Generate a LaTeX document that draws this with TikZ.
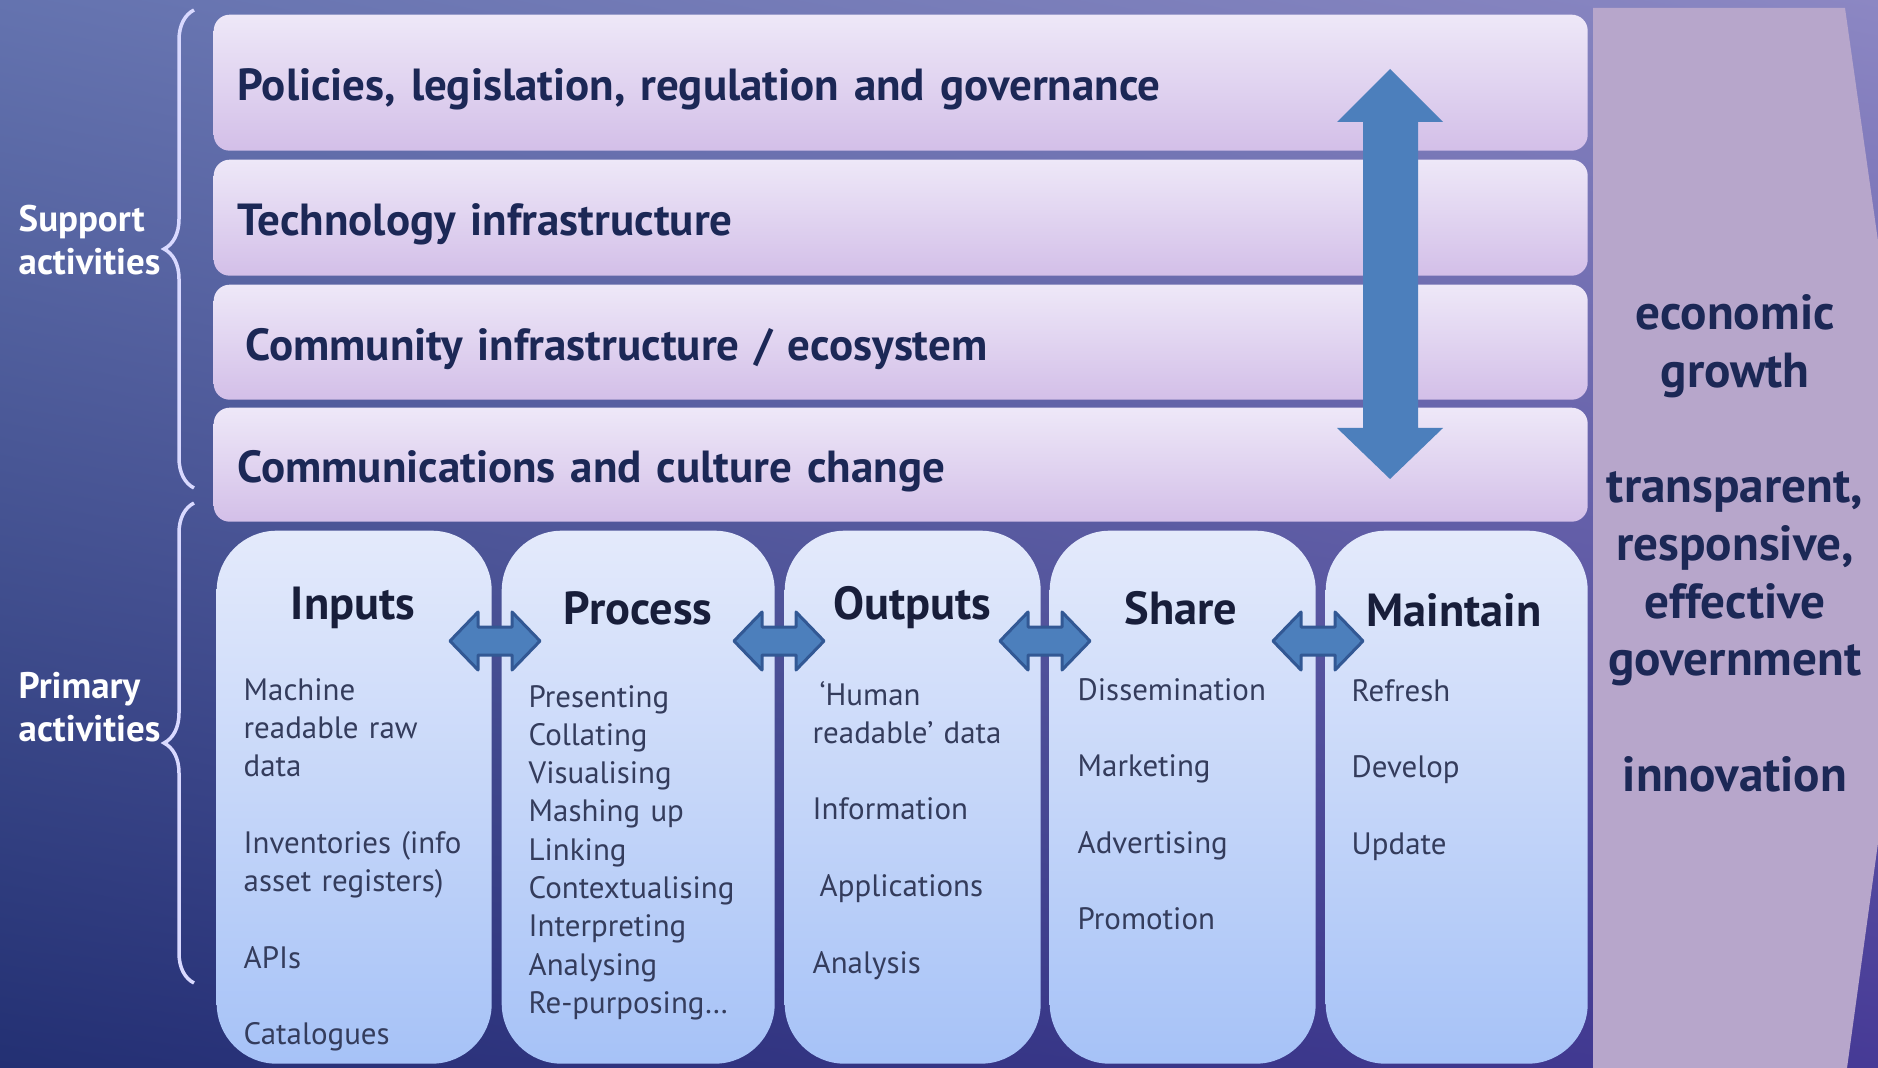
\documentclass[tikz,border=0pt]{standalone}
\usepackage{fontspec}
\setmainfont{PT Sans}
\usetikzlibrary{decorations.pathreplacing, shadings}

\definecolor{navy}{RGB}{28,40,86}
\definecolor{itemgray}{RGB}{52,60,92}
\definecolor{coltext}{RGB}{24,30,58}
\definecolor{arrowblue}{RGB}{76,127,188}
\definecolor{arrowedge}{RGB}{50,88,148}
\definecolor{panel}{RGB}{183,166,203}
\definecolor{bartop}{RGB}{238,232,248}
\definecolor{barbot}{RGB}{211,191,232}
\definecolor{coltop}{RGB}{228,234,251}
\definecolor{colbot}{RGB}{166,194,247}
\definecolor{bgul}{RGB}{100,115,175}
\definecolor{bgur}{RGB}{140,135,195}
\definecolor{bgll}{RGB}{35,48,115}
\definecolor{bglr}{RGB}{70,58,150}

\tikzset{
  bar/.style={rectangle, rounded corners=1.6mm, top color=bartop, bottom color=barbot,
    text width=132.6mm, inner xsep=2.4mm, inner ysep=0pt, align=left, anchor=north west,
    text height=13.3pt, text depth=3pt, text=navy, font=\bfseries\fontsize{12.8}{14}\selectfont},
  column/.style={rectangle, rounded corners=6mm, top color=coltop, bottom color=colbot,
    minimum height=53.3mm, inner sep=0pt, anchor=north west},
  coltitle/.style={text=coltext, font=\bfseries\fontsize{13.2}{15}\selectfont},
  items/.style={anchor=base west, inner sep=0pt, text width=30mm, align=left,
    text=itemgray, font=\fontsize{8.8}{10.9}\selectfont},
  sidelabel/.style={anchor=base west, inner sep=0pt, text width=16mm, align=left, text=white,
    font=\bfseries\fontsize{10.5}{12.2}\selectfont},
  sidebrace/.style={draw=white!85!blue, line width=0.35mm,
    decorate, decoration={brace, amplitude=3mm}},
  dblarrow/.style={fill=arrowblue, draw=arrowedge, line width=0.3mm, line join=round}
}

\begin{document}
\begin{tikzpicture}[x=0.1mm, y=-0.1mm]
  \useasboundingbox (0,0) rectangle (1878,1068);
  % background
  \shade[upper left=bgul, upper right=bgur, lower left=bgll, lower right=bglr]
    (0,0) rectangle (1878,1068);

  % outcome panel on the right
  \fill[panel] (1593,8) -- (1845,8) -- (1920,538) -- (1847,1068) -- (1593,1068) -- cycle;
  \node[align=center, anchor=base, inner sep=0pt, text width=28mm, text=navy,
    font=\bfseries\fontsize{14}{16.4}\selectfont]
    (outcomes) at (1735,330) {economic\\growth\\[16.4pt]transparent,\\responsive,\\effective\\government\\[16.4pt]innovation};

  % support activities
  \node[bar, minimum height=13.6mm] (policies) at (213,14) {Policies, legislation, regulation and governance};
  \node[bar, minimum height=11.6mm] (technology) at (213,159) {Technology infrastructure};
  \node[bar, minimum height=11.5mm] (community) at (213,284) {\hspace{0.8mm}Community infrastructure / ecosystem};
  \node[bar, minimum height=11.4mm] (communications) at (213,407) {Communications and culture change};

  % vertical arrow across the support layers
  \fill[arrowblue] (1390,69) -- (1443,122) -- (1418,122) -- (1418,428) -- (1443,428) -- (1390,479)
    -- (1337,428) -- (1363,428) -- (1363,122) -- (1337,122) -- cycle;

  % primary activities
  \node[column, minimum width=27.5mm] (inputs) at (216,530) {};
  \node[column, minimum width=27.3mm] (process) at (501,530) {};
  \node[column, minimum width=25.6mm] (outputs) at (784,530) {};
  \node[column, minimum width=26.6mm] (share) at (1049,530) {};
  \node[column, minimum width=26.2mm] (maintain) at (1325,530) {};

  \node[coltitle] (inputs-t) at (353,608) {Inputs};
  \node[coltitle] (process-t) at (638,608) {Process};
  \node[coltitle] (outputs-t) at (912,608) {Outputs};
  \node[coltitle] (share-t) at (1181,608) {Share};
  \node[coltitle] (maintain-t) at (1454,610) {Maintain};

  \foreach \x in {495,779,1045,1318}
    \draw[dblarrow, shift={(\x,641)}] (-45,0) -- (-17,-29) -- (-17,-14) -- (17,-14) -- (17,-29) -- (45,0)
      -- (17,29) -- (17,14) -- (-17,14) -- (-17,29) -- cycle;

  \node[items] (inputs-i) at (243,700) {Machine\\readable raw\\data\\[10.9pt]Inventories (info\\asset registers)\\[10.9pt]APIs\\[10.9pt]Catalogues};
  \node[items] (process-i) at (528,707) {Presenting\\Collating\\Visualising\\Mashing up\\Linking\\Contextualising\\Interpreting\\Analysing\\Re-purposing\ldots};
  \node[items] (outputs-i) at (812,705) {\hspace{0.7mm}‘Human\\readable’ data\\[10.9pt]Information\\[10.9pt]\hspace{0.7mm}Applications\\[10.9pt]Analysis};
  \node[items] (share-i) at (1077,700) {Dissemination\\[10.9pt]Marketing\\[10.9pt]Advertising\\[10.9pt]Promotion};
  \node[items] (maintain-i) at (1351,701) {Refresh\\[10.9pt]Develop\\[10.9pt]Update};

  % side labels and braces
  \node[sidelabel] (support) at (18,232) {Support\\activities};
  \node[sidelabel] (primary) at (18,699) {Primary\\activities};
  \coordinate (sb-top) at (194,10);
  \coordinate (sb-bot) at (194,488);
  \coordinate (pb-top) at (194,503);
  \coordinate (pb-bot) at (194,983);
  \draw[sidebrace] (sb-bot) -- (sb-top);
  \draw[sidebrace] (pb-bot) -- (pb-top);
\end{tikzpicture}
\end{document}
